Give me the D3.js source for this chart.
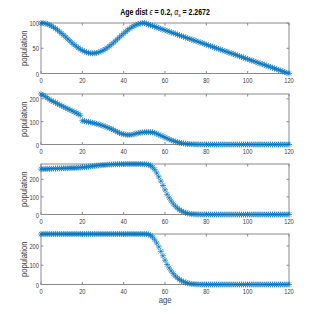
<!DOCTYPE html>
<html><head><meta charset="utf-8">
<script src="https://cdn.jsdelivr.net/npm/d3@7/dist/d3.min.js"></script>
<style>
body{margin:0;background:#fff;}
svg{display:block;}
text{font-family:"Liberation Sans",Arial,sans-serif;}
</style></head><body>
<svg id="c" width="319" height="319"></svg>
<script>
const ages = d3.range(0, 121);
const xTicks = [0, 20, 40, 60, 80, 100, 120];
const yTicks1 = [0, 50, 100];
const yTicks234 = [0, 100, 200];

const series1 = [100,99.8,99.1,97.9,96.3,94.3,91.9,89.1,86.1,82.8,
79.3,75.6,71.9,68.1,64.4,60.7,57.2,53.9,50.9,48.1,
45.7,43.7,42.1,40.9,40.2,40,40.2,40.9,42.1,43.7,
45.7,48.1,50.9,53.9,57.2,60.7,64.4,68.1,71.9,75.6,
79.3,82.8,86.1,89.1,91.9,94.3,96.3,97.9,99.1,99.8,
100,98.6,97.1,95.7,94.3,92.9,91.4,90.0,88.6,87.1,
85.7,84.3,82.9,81.4,80.0,78.6,77.1,75.7,74.3,72.9,
71.4,70.0,68.6,67.1,65.7,64.3,62.9,61.4,60.0,58.6,
57.1,55.7,54.3,52.9,51.4,50.0,48.6,47.1,45.7,44.3,
42.9,41.4,40.0,38.6,37.1,35.7,34.3,32.9,31.4,30.0,
28.6,27.1,25.7,24.3,22.9,21.4,20.0,18.6,17.1,15.7,
14.3,12.9,11.4,10.0,8.6,7.1,5.7,4.3,2.9,1.4,
0];

const series2 = [221,216,210,204,198,192,188,183,178,174,
169,165,160,156,152,147,143,138,134,128,
104,102,100,99,97,95,93,90,88,85,
82,79,75,72,68,64,59,55,50,47,
45,43,42,42,43,45,48,50,52,53,
54,54,54,54,53,51,47,43,39,35,
31,27,23,19,16,13,10,8,6,4.5,
3.5,2.5,1.8,1.2,0.8,0.5,0.3,0.2,0.1,0,
0,0,0,0,0,0,0,0,0,0,
0,0,0,0,0,0,0,0,0,0,
0,0,0,0,0,0,0,0,0,0,
0,0,0,0,0,0,0,0,0,0,
0];

const series3 = [258,258,259,259,260,260,261,261,262,262,
262,263,263,263,264,264,265,265,266,267,
268,269,270,272,273,275,276,278,279,280,
281,282,283,284,284,285,285,286,286,286,
287,287,287,287,287,287,287,287,287,286,
286,285,283,278,268,255,236,214,190,165,
140,115,95,77,60,47,36,27,20,14,
10,6.5,4.2,2.7,1.7,1.1,0.7,0.4,0.2,0.1,
0,0,0,0,0,0,0,0,0,0,
0,0,0,0,0,0,0,0,0,0,
0,0,0,0,0,0,0,0,0,0,
0,0,0,0,0,0,0,0,0,0,
0];

const series4 = [262,262,262,262,262,262,262,262,262,262,
262,262,262,262,262,262,262,262,262,262,
262,262,262,262,262,262,262,262,262,262,
262,262,262,262,262,262,262,262,262,262,
262,262,262,262,262,262,262,262,262,262,
262,262,260,255,246,232,215,195,172,149,
126,104,86,70,56,44,34,26,19,14,
10,7,4.5,3,2,1.2,0.7,0.4,0.2,0.1,
0,0,0,0,0,0,0,0,0,0,
0,0,0,0,0,0,0,0,0,0,
0,0,0,0,0,0,0,0,0,0,
0,0,0,0,0,0,0,0,0,0,
0];

const panels = [
  {values: series1, yticks: yTicks1, top: 23},
  {values: series2, yticks: yTicks234, top: 94},
  {values: series3, yticks: yTicks234, top: 164},
  {values: series4, yticks: yTicks234, top: 234}
];

const svg = d3.select("#c");
const left = 41, right = 289, ph = 50.5;
const x = d3.scaleLinear().domain([0, 120]).range([left, right]);
const color = "#0072BD";
const axisColor = "#8a8a8a";
const textColor = "#404040";
const tickLen = 2.5;
const r = 3.0, rd = r * 0.72;
const star = `M${-r},0L${r},0M0,${-r}L0,${r}M${-rd},${-rd}L${rd},${rd}M${-rd},${rd}L${rd},${-rd}`;

// condensed text helper
function label(parent, tx, ty, str, anchor, size, sx, rot) {
  const g = parent.append("g").attr("transform", `translate(${tx},${ty})${rot ? " rotate(" + rot + ")" : ""} scale(${sx},1)`);
  return g.append("text").attr("text-anchor", anchor).attr("font-size", size).attr("fill", textColor).text(str);
}

panels.forEach(p => {
  const y = d3.scaleLinear().domain([0, d3.max(p.values)]).range([p.top + ph, p.top]);
  const g = svg.append("g");
  g.append("rect").attr("x", left).attr("y", p.top).attr("width", right - left).attr("height", ph)
    .attr("fill", "none").attr("stroke", axisColor).attr("stroke-width", 1);
  xTicks.forEach(t => {
    g.append("line").attr("x1", x(t)).attr("x2", x(t)).attr("y1", p.top + ph).attr("y2", p.top + ph - tickLen)
      .attr("stroke", axisColor);
    g.append("line").attr("x1", x(t)).attr("x2", x(t)).attr("y1", p.top).attr("y2", p.top + tickLen)
      .attr("stroke", axisColor);
    label(g, x(t), p.top + ph + 9, t, "middle", 8, 0.72);
  });
  p.yticks.forEach(t => {
    g.append("line").attr("x1", left).attr("x2", left + tickLen).attr("y1", y(t)).attr("y2", y(t))
      .attr("stroke", axisColor);
    g.append("line").attr("x1", right).attr("x2", right - tickLen).attr("y1", y(t)).attr("y2", y(t))
      .attr("stroke", axisColor);
    label(g, left - 2, y(t) + 3, t, "end", 8, 0.72);
  });
  label(g, 27, p.top + ph / 2, "population", "middle", 9, 0.85, -90);
  g.append("g").selectAll("path").data(ages).join("path")
    .attr("transform", a => `translate(${x(a)},${y(p.values[a])})`)
    .attr("d", star).attr("fill", "none").attr("stroke", color).attr("stroke-width", 0.7);
});

// title
const tg = svg.append("g").attr("transform", `translate(${(left + right) / 2},15) scale(0.82,1)`);
const tt = tg.append("text").attr("text-anchor", "middle")
  .attr("font-size", 8.5).attr("font-weight", "bold").attr("fill", "#000");
tt.append("tspan").text("Age dist ");
tt.append("tspan").attr("font-style", "italic").attr("font-weight", "normal").text("ϵ");
tt.append("tspan").text(" = 0.2, ");
tt.append("tspan").attr("font-style", "italic").attr("font-weight", "normal").text("α");
tt.append("tspan").attr("font-size", 6).attr("dy", 2).attr("font-style", "italic").attr("font-weight", "normal").text("s");
tt.append("tspan").attr("dy", -2).text(" = 2.2672");

label(svg, (left + right) / 2, 303, "age", "middle", 9, 0.85);
</script>
</body></html>
